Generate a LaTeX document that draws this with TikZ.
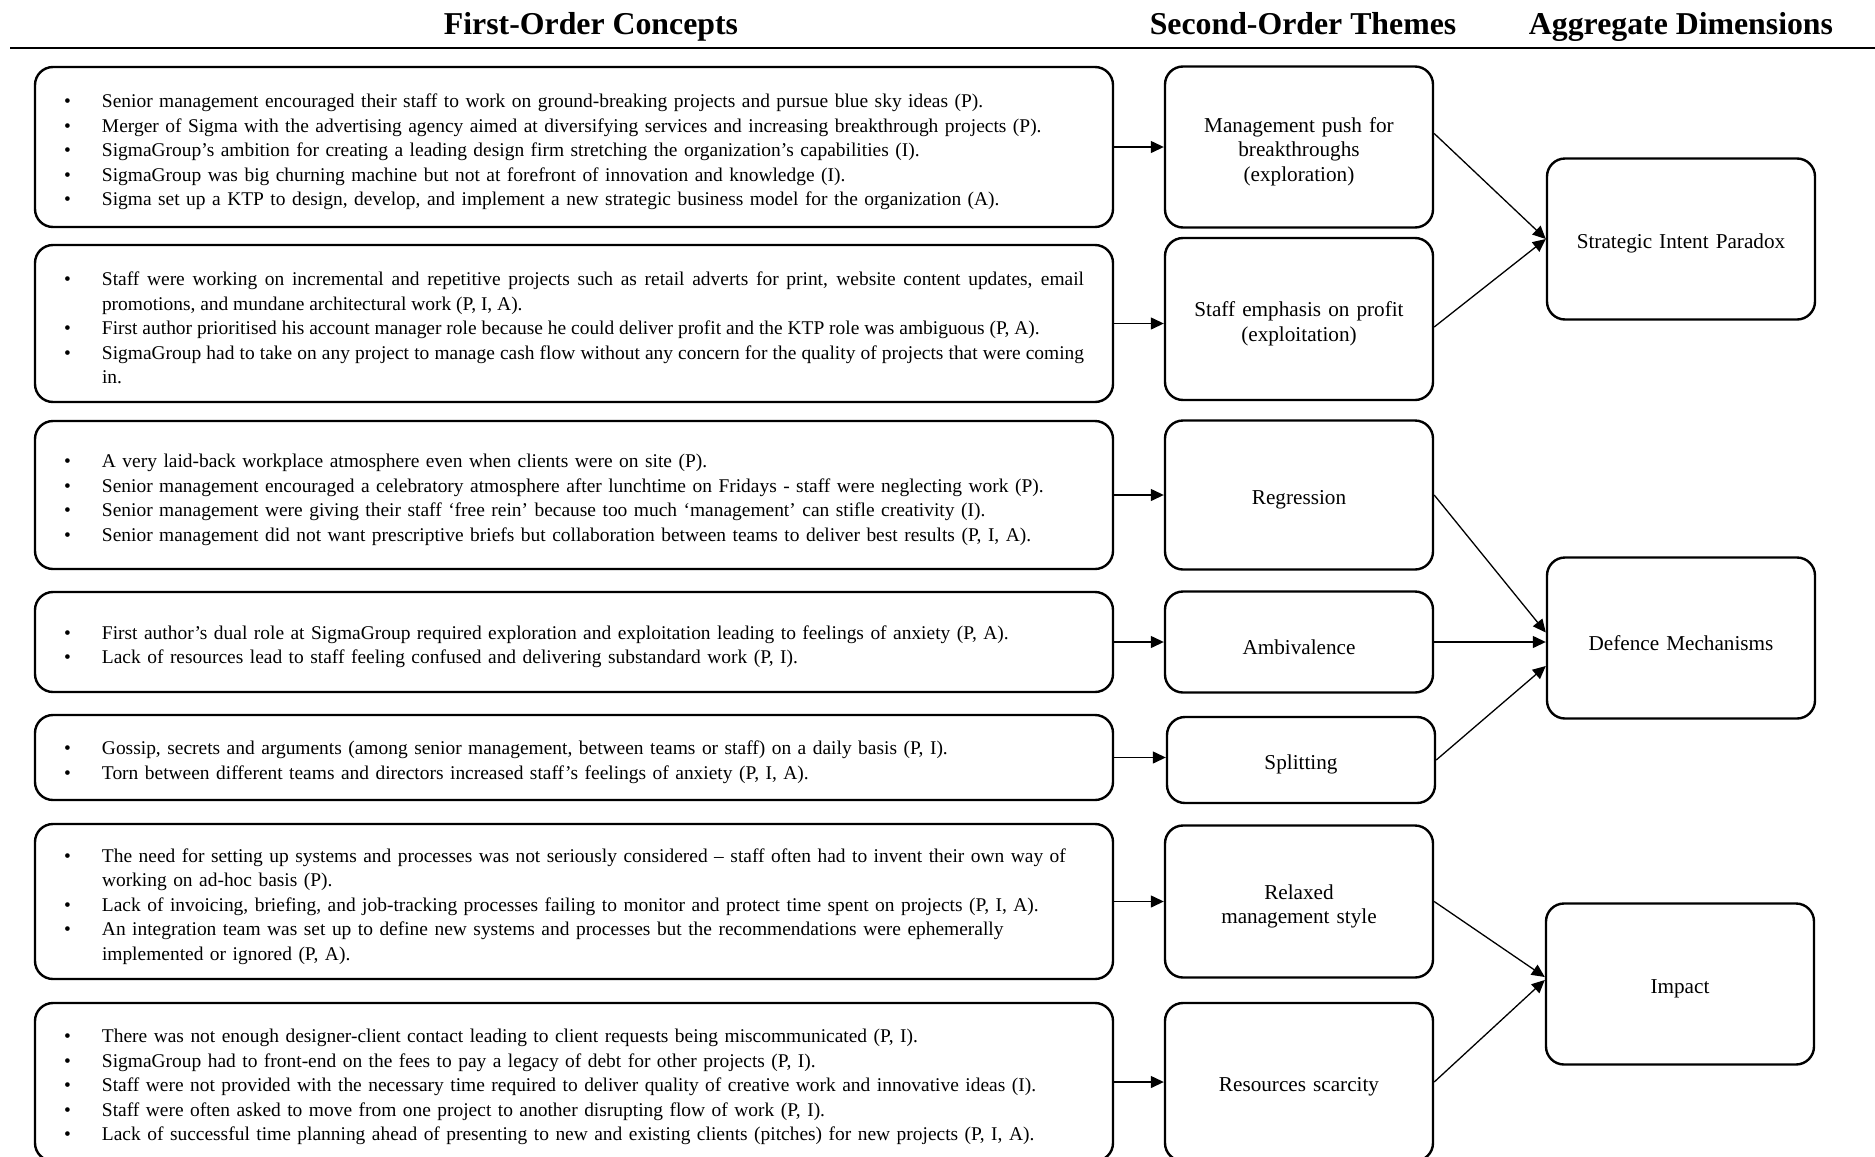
\documentclass[tikz,border=0pt]{standalone}
\usepackage{fontspec}
\setmainfont{Liberation Serif}
\usepackage{tikz}
\usetikzlibrary{positioning}
\usetikzlibrary{arrows.meta}
\tikzstyle{concept} = [rectangle, rounded corners=9pt, draw=black, line width=1.2pt, text width=510pt, inner xsep=14.5pt, inner ysep=0pt, align=left, font=\fontsize{9.72}{12.25}\selectfont, execute at begin node={\rule{0pt}{11.6pt}}]
\tikzstyle{theme} = [rectangle, rounded corners=9pt, draw=black, line width=1.2pt, text width=120pt, inner xsep=7pt, inner ysep=0pt, align=center, font=\fontsize{10.6}{12.25}\selectfont, execute at begin node={\rule{0pt}{12.2pt}}]
\tikzstyle{dimension} = [rectangle, rounded corners=9pt, draw=black, line width=1.2pt, text width=120pt, inner xsep=7pt, minimum height=80.5pt, align=center, font=\fontsize{10.6}{12.25}\selectfont, execute at begin node={\rule{0pt}{12.2pt}}]
\tikzstyle{heading} = [anchor=base, font=\fontsize{15.9}{18}\selectfont\bfseries]
\tikzstyle{arrow} = [line width=0.65pt,-{Triangle[length=6.5pt,width=6pt]}]
\newcommand{\bitem}[1]{\hangindent=19pt\hangafter=1\noindent\hbox to 19pt{\textbullet\hfil}#1\par}

\begin{document}
\begin{tikzpicture}[x=0.5pt, y=-0.5pt, node distance=80pt]
        \useasboundingbox (0,0) rectangle (1875,1157);
        \node (firstOrder) [heading] at (591,34) {First-Order Concepts};
        \node (secondOrder) [heading] at (1303,34) {Second-Order Themes};
        \node (aggregate) [heading] at (1681,34) {Aggregate Dimensions};
        \draw [line width=1.25pt] (10,48) -- (1875,48);

        \node (pushBullets) [concept, minimum height=80pt] at (574,147) {\bitem{Senior management encouraged their staff to work on ground-breaking projects and pursue blue sky ideas (P).}\bitem{Merger of Sigma with the advertising agency aimed at diversifying services and increasing breakthrough projects (P).}\bitem{SigmaGroup’s ambition for creating a leading design firm stretching the organization’s capabilities (I).}\bitem{SigmaGroup was big churning machine but not at forefront of innovation and knowledge (I).}\bitem{Sigma set up a KTP to design, develop, and implement a new strategic business model for the organization (A).}};
        \node (profitBullets) [concept, minimum height=78.5pt, below of=pushBullets, yshift=-8.25pt, align=justify] {\bitem{Staff were working on incremental and repetitive projects such as retail adverts for print, website content updates, email\linebreak promotions, and mundane architectural work (P, I, A).}\bitem{First author prioritised his account manager role because he could deliver profit and the KTP role was ambiguous (P, A).}\bitem{SigmaGroup had to take on any project to manage cash flow without any concern for the quality of projects that were coming\linebreak in.}};
        \node (regressionBullets) [concept, minimum height=74pt, below of=profitBullets, yshift=-5.75pt] {\bitem{A very laid-back workplace atmosphere even when clients were on site (P).}\bitem{Senior management encouraged a celebratory atmosphere after lunchtime on Fridays - staff were neglecting work (P).}\bitem{Senior management were giving their staff ‘free rein’ because too much ‘management’ can stifle creativity (I).}\bitem{Senior management did not want prescriptive briefs but collaboration between teams to deliver best results (P, I, A).}};
        \node (ambivalenceBullets) [concept, minimum height=50pt, below of=regressionBullets, yshift=6.5pt] {\bitem{First author’s dual role at SigmaGroup required exploration and exploitation leading to feelings of anxiety (P, A).}\bitem{Lack of resources lead to staff feeling confused and delivering substandard work (P, I).}};
        \node (splittingBullets) [concept, minimum height=42.5pt, below of=ambivalenceBullets, yshift=22.25pt] {\bitem{Gossip, secrets and arguments (among senior management, between teams or staff) on a daily basis (P, I).}\bitem{Torn between different teams and directors increased staff’s feelings of anxiety (P, I, A).}};
        \node (relaxedBullets) [concept, minimum height=77.5pt, below of=splittingBullets, yshift=8pt] {\bitem{The need for setting up systems and processes was not seriously considered – staff often had to invent their own way of\newline working on ad-hoc basis (P).}\bitem{Lack of invoicing, briefing, and job-tracking processes failing to monitor and protect time spent on projects (P, I, A).}\bitem{An integration team was set up to define new systems and processes but the recommendations were ephemerally\newline implemented or ignored (P, A).}};
        \node (scarcityBullets) [concept, minimum height=79pt, below of=relaxedBullets, yshift=-10.25pt] {\bitem{There was not enough designer-client contact leading to client requests being miscommunicated (P, I).}\bitem{SigmaGroup had to front-end on the fees to pay a legacy of debt for other projects (P, I).}\bitem{Staff were not provided with the necessary time required to deliver quality of creative work and innovative ideas (I).}\bitem{Staff were often asked to move from one project to another disrupting flow of work (P, I).}\bitem{Lack of successful time planning ahead of presenting to new and existing clients (pitches) for new projects (P, I, A).}};

        \node (push) [theme, minimum height=80.5pt, right of=pushBullets, xshift=282.5pt] {Management push for\\breakthroughs\\(exploration)};
        \node (profit) [theme, minimum height=81pt, right of=profitBullets, xshift=282.5pt, yshift=2.25pt] {Staff emphasis on profit\\(exploitation)};
        \node (regression) [theme, minimum height=74.5pt, right of=regressionBullets, xshift=282.5pt] {Regression};
        \node (ambivalence) [theme, minimum height=50.5pt, right of=ambivalenceBullets, xshift=282.5pt] {Ambivalence};
        \node (splitting) [theme, minimum height=43pt, right of=splittingBullets, xshift=283.5pt, yshift=-1.25pt] {Splitting};
        \node (relaxed) [theme, minimum height=76pt, right of=relaxedBullets, xshift=282.5pt] {Relaxed\\management style};
        \node (scarcity) [theme, minimum height=79pt, right of=scarcityBullets, xshift=282.5pt] {Resources scarcity};

        \node (paradox) [dimension, right of=push, xshift=111pt, yshift=-46pt] {Strategic Intent Paradox};
        \node (defence) [dimension, right of=ambivalence, xshift=111pt, yshift=2pt] {Defence Mechanisms};
        \node (impact) [dimension, right of=relaxed, xshift=110.5pt, yshift=-41.25pt] {Impact};

        \draw [arrow] (pushBullets.east) -- (pushBullets.east -| push.west);
        \draw [arrow] (profitBullets.east) -- (profitBullets.east -| profit.west);
        \draw [arrow] (regressionBullets.east) -- (regressionBullets.east -| regression.west);
        \draw [arrow] (ambivalenceBullets.east) -- (ambivalenceBullets.east -| ambivalence.west);
        \draw [arrow] (splittingBullets.east) -- (splittingBullets.east -| splitting.west);
        \draw [arrow] (relaxedBullets.east) -- (relaxedBullets.east -| relaxed.west);
        \draw [arrow] (scarcityBullets.east) -- (scarcityBullets.east -| scarcity.west);

        \draw [arrow] ([yshift=6.75pt]push.east) -- (paradox.west);
        \draw [arrow] ([yshift=-4pt]profit.east) -- (paradox.west);
        \draw [arrow] (regression.east) -- ([yshift=2.75pt]defence.west);
        \draw [arrow] (ambivalence.east) -- (ambivalence.east -| defence.west);
        \draw [arrow] (splitting.east) -- ([yshift=-14pt]defence.west);
        \draw [arrow] (relaxed.east) -- ([yshift=3.5pt]impact.west);
        \draw [arrow] (scarcity.east) -- ([yshift=2pt]impact.west);
    \end{tikzpicture}
\end{document}
